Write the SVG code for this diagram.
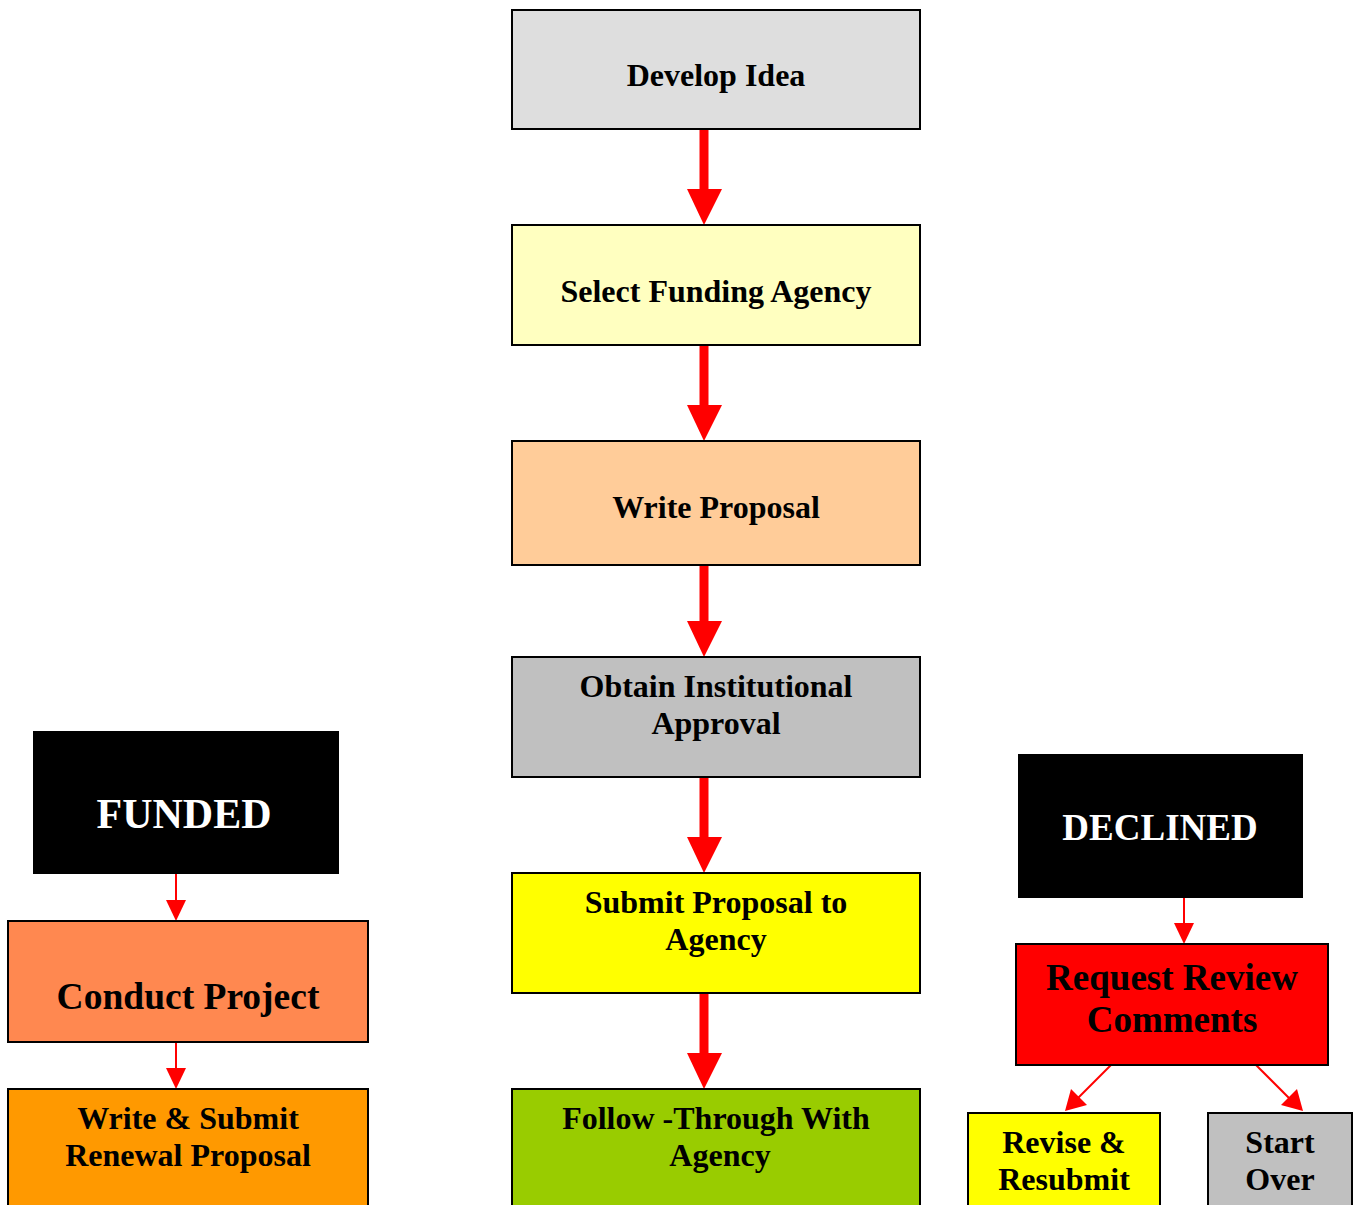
<svg xmlns="http://www.w3.org/2000/svg" width="1358" height="1205" viewBox="0 0 1358 1205">
<defs>
<style>
.box{stroke:#000;stroke-width:2}
.t{font-family:"Liberation Serif","Times New Roman",serif;font-weight:bold;text-anchor:middle;fill:#000}
.w{fill:#fff}
.thick{stroke:#FF0000;stroke-width:9;fill:none}
.thin{stroke:#FF0000;stroke-width:2;fill:none}
.head{fill:#FF0000}
</style>
</defs>
<rect width="1358" height="1205" fill="#fff"/>
<g id="connectors">
<line class="thick" x1="704" y1="129" x2="704" y2="190"/>
<polygon class="head" points="687,189 722,189 704,225"/>
<line class="thick" x1="704" y1="345" x2="704" y2="406"/>
<polygon class="head" points="687,405 722,405 704,441"/>
<line class="thick" x1="704" y1="565" x2="704" y2="622"/>
<polygon class="head" points="687,621 722,621 704,657"/>
<line class="thick" x1="704" y1="777" x2="704" y2="838"/>
<polygon class="head" points="687,837 722,837 704,873"/>
<line class="thick" x1="704" y1="993" x2="704" y2="1054"/>
<polygon class="head" points="687,1053 722,1053 704,1089"/>
<line class="thin" x1="176" y1="874" x2="176" y2="902"/>
<polygon class="head" points="166,900 186,900 176,921"/>
<line class="thin" x1="176" y1="1042" x2="176" y2="1070"/>
<polygon class="head" points="166,1068 186,1068 176,1089"/>
<line class="thin" x1="1184" y1="898" x2="1184" y2="925"/>
<polygon class="head" points="1174,923 1194,923 1184,944"/>
<line class="thin" x1="1111" y1="1065" x2="1077" y2="1099"/>
<polygon class="head" points="1065,1111 1071,1089 1087,1105"/>
<line class="thin" x1="1256" y1="1065" x2="1290" y2="1099"/>
<polygon class="head" points="1303,1111 1281,1105 1297,1089"/>
</g>
<g id="develop-idea">
<rect class="box" x="512" y="10" width="408" height="119" fill="#DEDEDE"/>
<text class="t" x="716" y="86" font-size="32">Develop Idea</text>
</g>
<g id="select-funding">
<rect class="box" x="512" y="225" width="408" height="120" fill="#FFFFC0"/>
<text class="t" x="716" y="302" font-size="32">Select Funding Agency</text>
</g>
<g id="write-proposal">
<rect class="box" x="512" y="441" width="408" height="124" fill="#FFCC99"/>
<text class="t" x="716" y="518" font-size="32">Write Proposal</text>
</g>
<g id="obtain-approval">
<rect class="box" x="512" y="657" width="408" height="120" fill="#C0C0C0"/>
<text class="t" x="716" y="697" font-size="32">Obtain Institutional</text>
<text class="t" x="716" y="734" font-size="32">Approval</text>
</g>
<g id="submit-proposal">
<rect class="box" x="512" y="873" width="408" height="120" fill="#FFFF00"/>
<text class="t" x="716" y="913" font-size="32">Submit Proposal to</text>
<text class="t" x="716" y="950" font-size="32">Agency</text>
</g>
<g id="follow-through">
<rect class="box" x="512" y="1089" width="408" height="130" fill="#99CC00"/>
<text class="t" x="716" y="1129" font-size="32">Follow -Through With</text>
<text class="t" x="720" y="1166" font-size="32">Agency</text>
</g>
<g id="funded">
<rect x="33" y="731" width="306" height="143" fill="#000"/>
<text class="t w" x="184" y="828" font-size="42">FUNDED</text>
</g>
<g id="conduct-project">
<rect class="box" x="8" y="921" width="360" height="121" fill="#FF8850"/>
<text class="t" x="188" y="1009" font-size="37.5">Conduct Project</text>
</g>
<g id="renewal">
<rect class="box" x="8" y="1089" width="360" height="130" fill="#FF9900"/>
<text class="t" x="188" y="1129" font-size="32">Write &amp; Submit</text>
<text class="t" x="188" y="1166" font-size="32">Renewal Proposal</text>
</g>
<g id="declined">
<rect x="1018" y="754" width="285" height="144" fill="#000"/>
<text class="t w" x="1160" y="840" font-size="37">DECLINED</text>
</g>
<g id="request-review">
<rect class="box" x="1016" y="944" width="312" height="121" fill="#FF0000"/>
<text class="t" x="1172" y="990" font-size="37">Request Review</text>
<text class="t" x="1172" y="1032" font-size="37">Comments</text>
</g>
<g id="revise">
<rect class="box" x="968" y="1113" width="192" height="110" fill="#FFFF00"/>
<text class="t" x="1064" y="1153" font-size="32">Revise &amp;</text>
<text class="t" x="1064" y="1190" font-size="32">Resubmit</text>
</g>
<g id="start-over">
<rect class="box" x="1208" y="1113" width="144" height="110" fill="#C0C0C0"/>
<text class="t" x="1280" y="1153" font-size="32">Start</text>
<text class="t" x="1280" y="1190" font-size="32">Over</text>
</g>
</svg>
